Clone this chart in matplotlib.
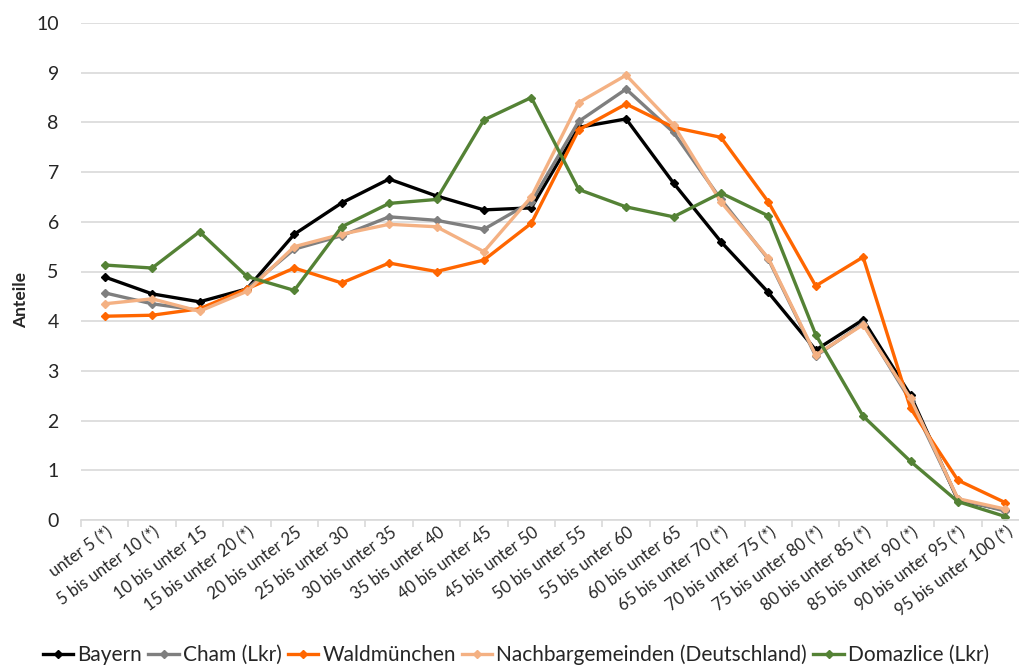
import matplotlib
matplotlib.use("Agg")
import matplotlib.pyplot as plt
import matplotlib.transforms as mtransforms

plt.rcParams['font.family'] = ['Lato', 'DejaVu Sans']

categories = ["unter 5 (*)", "5 bis unter 10 (*)", "10 bis unter 15", "15 bis unter 20 (*)",
              "20 bis unter 25", "25 bis unter 30", "30 bis unter 35", "35 bis unter 40",
              "40 bis unter 45", "45 bis unter 50", "50 bis unter 55", "55 bis unter 60",
              "60 bis unter 65", "65 bis unter 70 (*)", "70 bis unter 75 (*)", "75 bis unter 80 (*)",
              "80 bis unter 85 (*)", "85 bis unter 90 (*)", "90 bis unter 95 (*)", "95 bis unter 100 (*)"]

bayern = [4.89, 4.55, 4.39, 4.65, 5.75, 6.38, 6.86, 6.52, 6.24, 6.28,
          7.90, 8.07, 6.78, 5.60, 4.58, 3.42, 4.03, 2.51, 0.40, 0.20]
cham = [4.57, 4.35, 4.22, 4.65, 5.45, 5.72, 6.10, 6.03, 5.85, 6.40,
        8.02, 8.67, 7.80, 6.45, 5.25, 3.30, 3.95, 2.40, 0.42, 0.18]
waldmuenchen = [4.10, 4.12, 4.25, 4.65, 5.07, 4.77, 5.17, 5.00, 5.23, 5.97,
                7.85, 8.37, 7.90, 7.70, 6.40, 4.71, 5.29, 2.25, 0.80, 0.35]
nachbar = [4.35, 4.45, 4.20, 4.60, 5.50, 5.75, 5.95, 5.90, 5.40, 6.50,
           8.40, 8.95, 7.95, 6.40, 5.27, 3.32, 3.93, 2.45, 0.43, 0.22]
domazlice = [5.13, 5.07, 5.80, 4.90, 4.62, 5.90, 6.37, 6.45, 8.05, 8.50,
             6.65, 6.30, 6.10, 6.58, 6.12, 3.73, 2.09, 1.18, 0.37, 0.07]

series = [
    ("Bayern", bayern, "#000000"),
    ("Cham (Lkr)", cham, "#7f7f7f"),
    ("Waldmünchen", waldmuenchen, "#ff6600"),
    ("Nachbargemeinden (Deutschland)", nachbar, "#f4b183"),
    ("Domazlice (Lkr)", domazlice, "#548235"),
]

fig = plt.figure(figsize=(10.19, 6.68), dpi=100)
ax = fig.add_axes([81/1019, 1-520/668, (1029-81)/1019, (520-23)/668])

x = list(range(len(categories)))
for name, vals, col in series:
    ax.plot(x, vals, color=col, lw=2.4, marker='D', markersize=4.5, label=name,
            solid_joinstyle='miter')

ax.set_xlim(-0.5, len(categories) - 0.5)
ax.set_ylim(0, 10)
ax.set_yticks(range(0, 11))
ax.yaxis.grid(True, color="#d9d9d9", lw=1.2)
ax.set_axisbelow(True)
for s in ['top', 'right', 'left']:
    ax.spines[s].set_visible(False)
ax.spines['bottom'].set_color("#d9d9d9")
ax.spines['bottom'].set_linewidth(1.2)
ax.tick_params(axis='y', length=0, labelsize=14, pad=16, labelcolor="#262626")
ax.set_xticks([i - 0.5 for i in range(len(categories) + 1)], minor=False)
ax.set_xticklabels([])
ax.tick_params(axis='x', which='major', length=5, color="#d9d9d9", width=1.2)
ax.set_xticks(x, minor=True)
offset = mtransforms.ScaledTranslation(6/100, -5/100, fig.dpi_scale_trans)
ax.set_xticklabels(categories, minor=True, rotation=36, ha='right', va='center',
                   rotation_mode='anchor', fontsize=12, color="#262626")
ax.tick_params(axis='x', which='minor', length=0, pad=4)
for lab in ax.get_xticklabels(minor=True):
    lab.set_transform(lab.get_transform() + offset)

fig.text(21/1019, 1-300/668, "Anteile", rotation=90, fontsize=12.5, fontweight='bold',
         ha='center', va='center', color="#262626")

leg = fig.legend(loc='center', bbox_to_anchor=(516/1019, 1-655/668), ncol=5, frameon=False,
                 fontsize=15, handlelength=1.45, handletextpad=0.2, columnspacing=0.3,
                 borderaxespad=0)
for t in leg.get_texts():
    t.set_color("#262626")

fig.savefig("out.png", dpi=100)
